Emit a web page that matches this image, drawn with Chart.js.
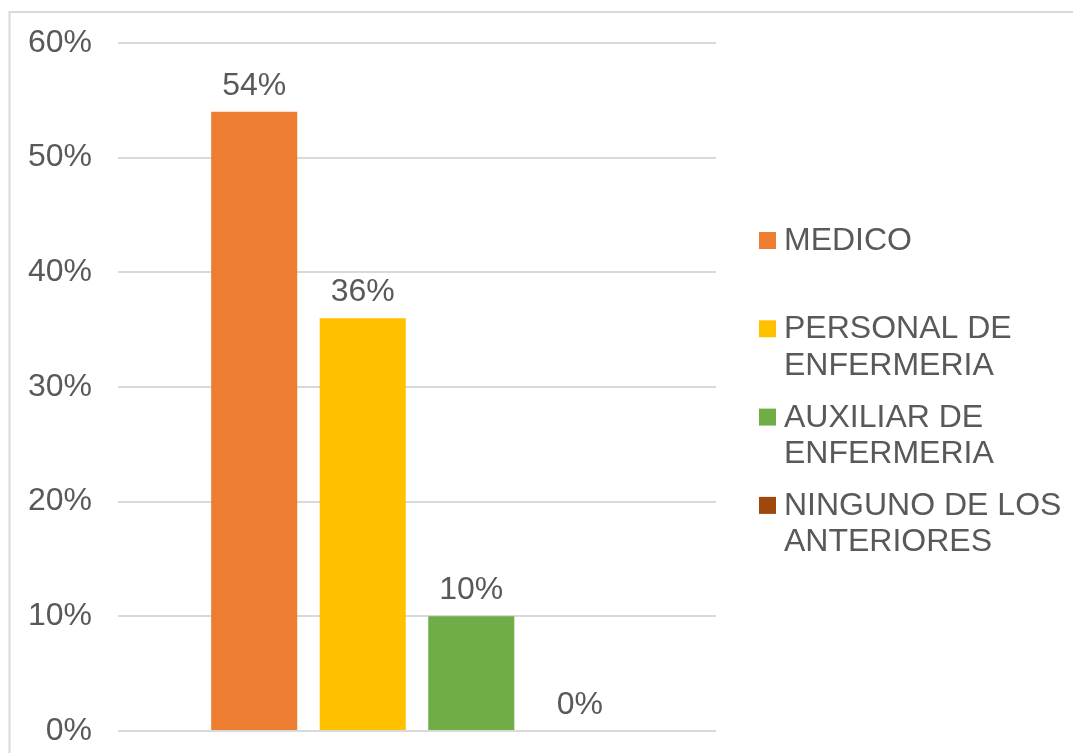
<!DOCTYPE html>
<html>
<head>
<meta charset="utf-8">
<script src="https://cdn.jsdelivr.net/npm/chart.js@4.4.0/dist/chart.umd.min.js"></script>
<style>
  html, body { margin: 0; padding: 0; background: #fff; }
  canvas { display: block; }
</style>
</head>
<body>
<canvas id="myChart" width="1073" height="753"></canvas>
<script>
const categories = [''];
const seriesNames = [
  ['MEDICO'],
  ['PERSONAL DE', 'ENFERMERIA'],
  ['AUXILIAR DE', 'ENFERMERIA'],
  ['NINGUNO DE LOS', 'ANTERIORES']
];
const seriesValues = [54, 36, 10, 0];
const seriesColors = ['#ed7d31', '#ffc000', '#70ad47', '#9e480e'];
const yTicks = [0, 10, 20, 30, 40, 50, 60];

const textColor = '#595959';
const fontFamily = '"Liberation Sans", Arial, sans-serif';
const fontSize = 32;

// light frame around the whole chart
const frame = {
  id: 'frame',
  beforeDraw: chart => {
    const ctx = chart.ctx;
    ctx.save();
    ctx.strokeStyle = '#d9d9d9';
    ctx.lineWidth = 2;
    ctx.strokeRect(9.5, 12, 2000, 2000);
    ctx.restore();
  }
};

// value on top of each bar
const valueLabels = {
  id: 'valueLabels',
  afterDatasetsDraw: chart => {
    const ctx = chart.ctx;
    ctx.save();
    ctx.font = fontSize + 'px ' + fontFamily;
    ctx.fillStyle = textColor;
    ctx.textAlign = 'center';
    ctx.textBaseline = 'alphabetic';
    chart.data.datasets.forEach((ds, i) => {
      chart.getDatasetMeta(i).data.forEach((bar, j) => {
        ctx.fillText(ds.data[j] + '%', bar.x, bar.y - 17);
      });
    });
    ctx.restore();
  }
};

// legend on the right, names wrapped on two lines
const sideLegend = {
  id: 'sideLegend',
  afterDraw: chart => {
    const ctx = chart.ctx;
    const left = chart.chartArea.right + 43;
    ctx.save();
    ctx.font = fontSize + 'px ' + fontFamily;
    ctx.textAlign = 'left';
    ctx.textBaseline = 'alphabetic';
    chart.data.datasets.forEach((ds, i) => {
      const base = 250 + i * 88.3;
      ctx.fillStyle = ds.backgroundColor;
      ctx.fillRect(left, base - 18, 17, 17);
      ctx.fillStyle = textColor;
      ds.lines.forEach((line, k) => {
        ctx.fillText(line, left + 25, base + k * 36.5);
      });
    });
    ctx.restore();
  }
};

const ctx = document.getElementById('myChart').getContext('2d');

const chart = new Chart(ctx, {
  type: 'bar',
  data: {
    labels: categories,
    datasets: seriesNames.map((name, i) => ({
      label: name.join(' '),
      lines: name,
      data: [seriesValues[i]],
      backgroundColor: seriesColors[i],
      borderWidth: 0,
      categoryPercentage: 0.726,
      barPercentage: 0.793
    }))
  },
  options: {
    responsive: false,
    animation: false,
    layout: { padding: { top: 43, right: 357, bottom: 22, left: 0 } },
    plugins: {
      legend: { display: false },
      tooltip: { enabled: false }
    },
    scales: {
      x: { display: false },
      y: {
        min: 0,
        max: 60,
        afterFit: scale => {
          scale.width = 118;
          scale.paddingTop = 0;
          scale.paddingBottom = 0;
        },
        afterBuildTicks: scale => { scale.ticks = yTicks.map(v => ({ value: v })); },
        border: { display: false },
        grid: { color: '#d9d9d9', lineWidth: 2, drawTicks: false },
        ticks: {
          padding: 26,
          color: textColor,
          font: { family: fontFamily, size: fontSize },
          callback: v => v + '%'
        }
      }
    }
  },
  plugins: [frame, valueLabels, sideLegend]
});
</script>
</body>
</html>
